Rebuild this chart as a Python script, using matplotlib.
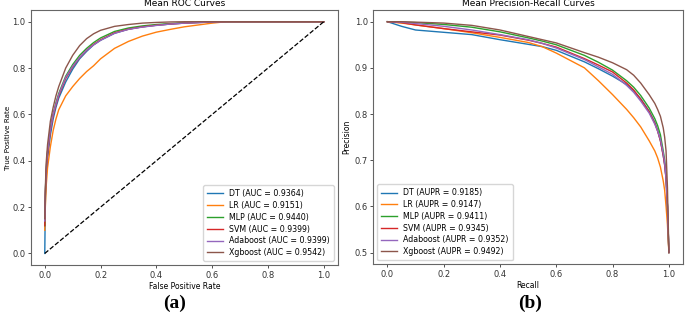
import matplotlib
matplotlib.use("Agg")
import matplotlib.pyplot as plt
import numpy as np

models = ["DT", "LR", "MLP", "SVM", "Adaboost", "Xgboost"]
auc = [0.9364, 0.9151, 0.9440, 0.9399, 0.9399, 0.9542]
aupr = [0.9185, 0.9147, 0.9411, 0.9345, 0.9352, 0.9492]
colors = ["#1f77b4", "#ff7f0e", "#2ca02c", "#d62728", "#9467bd", "#8c564b"]

# ROC curves
fpr = [0.0, 0.002, 0.005, 0.01, 0.02, 0.03, 0.04, 0.05, 0.075, 0.1, 0.125, 0.15,
       0.175, 0.2, 0.25, 0.3, 0.35, 0.4, 0.45, 0.5, 0.6, 0.65, 0.8, 1.0]
tpr_dt = [0.0, 0.22, 0.33, 0.41, 0.51, 0.58, 0.63, 0.67, 0.74, 0.795, 0.84, 0.872,
          0.9, 0.92, 0.95, 0.968, 0.978, 0.985, 0.99, 0.994, 0.999, 1.0, 1.0, 1.0]
tpr_lr = [0.1, 0.2, 0.29, 0.37, 0.46, 0.53, 0.58, 0.62, 0.68, 0.72, 0.755, 0.785,
          0.81, 0.84, 0.885, 0.915, 0.938, 0.955, 0.967, 0.978, 0.994, 1.0, 1.0, 1.0]
tpr_mlp = [0.12, 0.26, 0.36, 0.44, 0.54, 0.6, 0.65, 0.69, 0.765, 0.815, 0.855, 0.885,
           0.91, 0.93, 0.958, 0.973, 0.982, 0.988, 0.992, 0.996, 1.0, 1.0, 1.0, 1.0]
tpr_svm = [0.12, 0.25, 0.35, 0.43, 0.53, 0.595, 0.64, 0.68, 0.755, 0.805, 0.845, 0.877,
           0.902, 0.922, 0.952, 0.968, 0.978, 0.985, 0.99, 0.994, 0.999, 1.0, 1.0, 1.0]
tpr_ada = [0.14, 0.26, 0.36, 0.44, 0.535, 0.6, 0.645, 0.685, 0.76, 0.808, 0.846, 0.877,
           0.9, 0.92, 0.95, 0.967, 0.977, 0.984, 0.99, 0.994, 0.999, 1.0, 1.0, 1.0]
tpr_xgb = [0.15, 0.28, 0.39, 0.47, 0.57, 0.63, 0.68, 0.72, 0.8, 0.855, 0.897, 0.927,
           0.948, 0.963, 0.98, 0.988, 0.994, 0.997, 0.999, 1.0, 1.0, 1.0, 1.0, 1.0]

# Precision-recall curves
recall = [0.0, 0.05, 0.1, 0.2, 0.3, 0.4, 0.5, 0.55, 0.6, 0.7, 0.75, 0.8, 0.85, 0.875,
          0.9, 0.93, 0.95, 0.96, 0.97, 0.98, 0.985, 0.99, 0.995, 1.0]
prec_dt = [1.0, 0.99, 0.982, 0.977, 0.972, 0.961, 0.951, 0.946, 0.938, 0.913, 0.898,
           0.882, 0.864, 0.85, 0.833, 0.806, 0.782, 0.765, 0.742, 0.71, 0.69, 0.66, 0.6, 0.5]
prec_lr = [1.0, 0.997, 0.993, 0.985, 0.976, 0.966, 0.955, 0.946, 0.932, 0.9, 0.872,
           0.842, 0.81, 0.792, 0.772, 0.742, 0.72, 0.705, 0.685, 0.655, 0.635, 0.6, 0.56, 0.5]
prec_mlp = [1.0, 0.999, 0.998, 0.994, 0.988, 0.978, 0.965, 0.958, 0.95, 0.927, 0.912,
            0.895, 0.872, 0.858, 0.84, 0.813, 0.79, 0.775, 0.755, 0.72, 0.7, 0.67, 0.6, 0.5]
prec_svm = [1.0, 0.998, 0.993, 0.985, 0.978, 0.971, 0.96, 0.953, 0.945, 0.92, 0.906,
            0.891, 0.867, 0.852, 0.832, 0.805, 0.78, 0.763, 0.742, 0.71, 0.69, 0.66, 0.6, 0.5]
prec_ada = [1.0, 0.999, 0.996, 0.99, 0.982, 0.972, 0.961, 0.953, 0.943, 0.918, 0.902,
            0.886, 0.862, 0.847, 0.828, 0.802, 0.778, 0.763, 0.745, 0.715, 0.695, 0.66, 0.6, 0.5]
prec_xgb = [1.0, 1.0, 0.999, 0.997, 0.992, 0.982, 0.968, 0.961, 0.954, 0.933, 0.923,
            0.911, 0.896, 0.884, 0.867, 0.842, 0.823, 0.81, 0.795, 0.77, 0.75, 0.72, 0.64, 0.5]

tprs = [tpr_dt, tpr_lr, tpr_mlp, tpr_svm, tpr_ada, tpr_xgb]
precs = [prec_dt, prec_lr, prec_mlp, prec_svm, prec_ada, prec_xgb]

fs = 6
plt.rcParams['font.family'] = ['DejaVu Sans']
fig = plt.figure(figsize=(6.85, 3.17), dpi=100)
ax1 = fig.add_axes([0.045, 0.164, 0.448, 0.804])
ax2 = fig.add_axes([0.545, 0.167, 0.452, 0.801])

for name, a, t, c in zip(models, auc, tprs, colors):
    ax1.plot(fpr, t, color=c, lw=1.0, label='%s (AUC = %.4f)' % (name, a))
ax1.plot([0, 1], [0, 1], 'k--', lw=0.9)
ax1.set_title('Mean ROC Curves', fontsize=fs + 0.5, pad=3)
ax1.set_xlabel('False Positive Rate', fontsize=fs - 0.5, labelpad=2)
ax1.set_ylabel('True Positive Rate', fontsize=fs - 0.8, labelpad=1)
ax1.legend(loc='lower right', fontsize=fs - 0.3, handlelength=2.0, borderpad=0.5, labelspacing=0.35)

for name, a, p, c in zip(models, aupr, precs, colors):
    ax2.plot(recall, p, color=c, lw=1.0, label='%s (AUPR = %.4f)' % (name, a))
ax2.set_title('Mean Precision-Recall Curves', fontsize=fs + 0.5, pad=3)
ax2.set_xlabel('Recall', fontsize=fs - 0.5, labelpad=2)
ax2.set_ylabel('Precision', fontsize=fs - 0.5, labelpad=2)
ax2.legend(loc='lower left', fontsize=fs - 0.3, handlelength=2.0, borderpad=0.5, labelspacing=0.35)

for ax in (ax1, ax2):
    ax.tick_params(labelsize=fs, length=2.5, width=0.6, pad=1.5, colors='#333333')
    for s in ax.spines.values():
        s.set_linewidth(0.8)
        s.set_color('#666666')

fig.text(0.255, 0.03, '(a)', fontsize=14, fontweight='bold', family='Liberation Serif', ha='center')
fig.text(0.774, 0.03, '(b)', fontsize=14, fontweight='bold', family='Liberation Serif', ha='center')

fig.savefig('out.png', dpi=100)
